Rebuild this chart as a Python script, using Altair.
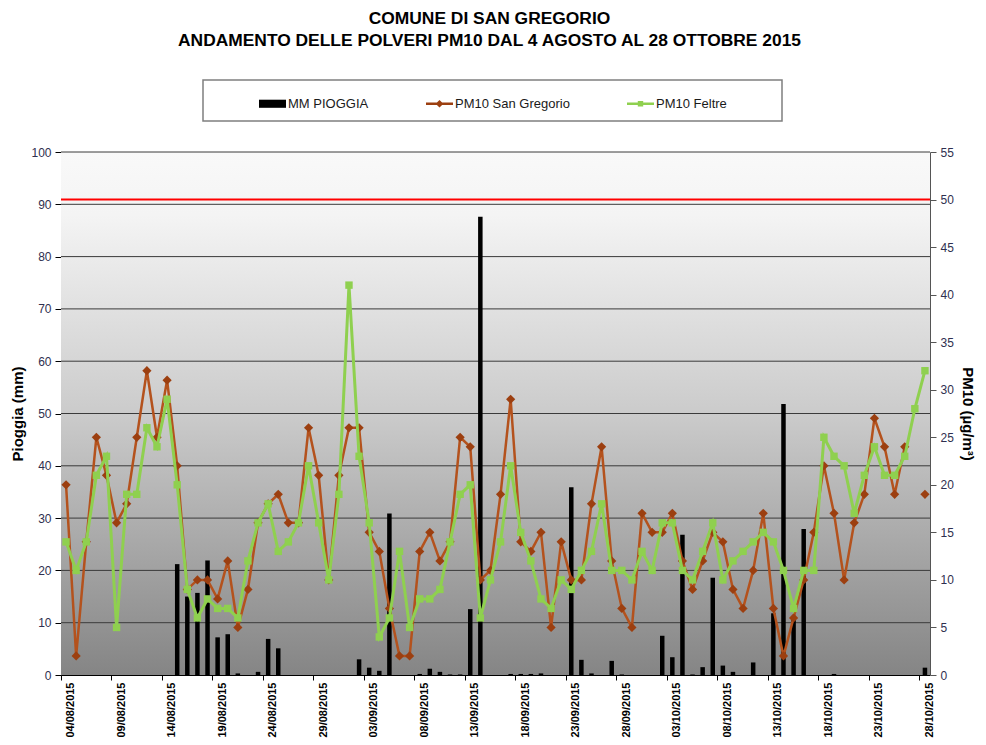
import altair as alt
import pandas as pd

# ---------------- data ----------------
dates = [d.strftime("%d/%m/%Y") for d in pd.date_range("2015-08-04", "2015-10-28", freq="D")]
tick_labels = dates[::5]

rain_mm = [0, 0, 0, 0, 0, 0, 0, 0, 0, 0,
           0, 21.2, 15.0, 15.7, 21.9, 7.2, 7.8, 0.3, 0, 0.6,
           6.9, 5.1, 0, 0, 0, 0, 0, 0, 0, 3.0,
           1.4, 0.8, 30.9, 0, 0, 0.2, 1.2, 0.6, 0.1, 0.1,
           12.6, 87.6, 0, 0, 0.2, 0.2, 0.2, 0.3, 0, 0,
           35.9, 2.9, 0.3, 0, 2.7, 0.1, 0, 0, 0, 7.5,
           3.4, 26.8, 0.1, 1.5, 18.6, 1.8, 0.6, 0, 2.4, 0,
           11.8, 51.8, 11.0, 27.9, 0, 0, 0.2, 0, 0, 0,
           0, 0, 0, 0, 0, 1.4]

pm10_san_gregorio = [20, 2, 14, 25, 21, 16, 18, 25, 32, 25,
                     31, 22, 9, 10, 10, 8, 12, 5, 9, 16,
                     18, 19, 16, 16, 26, 21, 10, 21, 26, 26,
                     15, 13, 7, 2, 2, 13, 15, 12, 14, 25,
                     24, 10, 11, 19, 29, 14, 13, 15, 5, 14,
                     10, 10, 18, 24, 12, 7, 5, 17, 15, 15,
                     17, 12, 9, 12, 15, 14, 9, 7, 11, 17,
                     7, 2, 6, 10, 15, 22, 17, 10, 16, 19,
                     27, 24, 19, 24, None, 19]

pm10_feltre = [14, 11, 14, 21, 23, 5, 19, 19, 26, 24,
               29, 20, 9, 6, 8, 7, 7, 6, 12, 16,
               18, 13, 14, 16, 22, 16, 10, 19, 41, 23,
               16, 4, 6, 13, 5, 8, 8, 9, 14, 19,
               20, 6, 10, 14, 22, 15, 12, 8, 7, 10,
               9, 11, 13, 18, 11, 11, 10, 13, 11, 16,
               16, 11, 10, 13, 16, 10, 12, 13, 14, 15,
               14, 11, 7, 11, 11, 25, 23, 22, 17, 21,
               24, 21, 21, 23, 28, 32]

rain_ticks = list(range(0, 101, 10))
rain_grid = list(range(10, 101, 10))
pm_ticks = list(range(0, 56, 5))
pm10_limit = [50]

S_RAIN = "MM PIOGGIA"
S_SG = "PM10 San Gregorio"
S_FE = "PM10 Feltre"
series_names = [S_RAIN, S_SG, S_FE]

# ---------------- styles ----------------
W, H = 869, 523
FONT = "Liberation Sans"
BROWN_LINE = "#b4521d"
BROWN_MARK = "#9c3f10"
GREEN = "#8fd04f"
legend_colors = ["#000000", BROWN_MARK, GREEN]
legend_paths = [
    "M-1,-0.3L1,-0.3L1,0.3L-1,0.3Z",
    "M-1,-0.09L-0.19,-0.09L0,-0.28L0.19,-0.09L1,-0.09L1,0.09L0.19,0.09L0,0.28L-0.19,0.09L-1,0.09Z",
    "M-1,-0.09L-0.2,-0.09L-0.2,-0.2L0.2,-0.2L0.2,-0.09L1,-0.09L1,0.09L0.2,0.09L0.2,0.2L-0.2,0.2L-0.2,0.09L-1,0.09Z",
]

rain_df = pd.DataFrame({"date": dates, "rain": rain_mm})
grid_df = pd.DataFrame({"rain": rain_grid})
sg_df = pd.DataFrame({"date": dates, "pm": pm10_san_gregorio, "series": S_SG})
fe_df = pd.DataFrame({"date": dates, "pm": pm10_feltre, "series": S_FE})
pm_df = pd.concat([sg_df, fe_df], ignore_index=True)
limit_df = pd.DataFrame({"pm": pm10_limit})
bg_df = pd.DataFrame({"k": [0]})

x_enc = alt.X(
    "date:O",
    sort=dates,
    scale=alt.Scale(domain=dates, paddingInner=0, paddingOuter=0),
    axis=alt.Axis(
        values=tick_labels, title=None, labelAngle=270, bandPosition=0, labelOffset=5,
        labelFont=FONT, labelFontSize=11, labelFontWeight="bold", labelColor="#000000",
        labelPadding=2, tickSize=5, tickColor="#000000", domainColor="#000000",
        grid=False,
    ),
)

y_rain = alt.Y(
    "rain:Q",
    scale=alt.Scale(domain=[0, 100], nice=False, zero=True),
    axis=alt.Axis(
        orient="left", values=rain_ticks, grid=False, title="Pioggia (mm)",
        titleFont=FONT, titleFontSize=15, titleFontWeight="bold", titleColor="#000000",
        titlePadding=5, labelFont=FONT, labelFontSize=12, labelColor="#2f2f4f",
        labelPadding=4, tickSize=6, tickColor="#000000", domainColor="#000000",
    ),
)

y_pm = alt.Y(
    "pm:Q",
    scale=alt.Scale(domain=[0, 55], nice=False, zero=True),
    axis=alt.Axis(
        orient="right", values=pm_ticks, grid=False, title="PM10 (µg/m³)",
        titleFont=FONT, titleFontSize=15, titleFontWeight="bold", titleColor="#000000",
        titlePadding=6, labelFont=FONT, labelFontSize=12, labelColor="#2f2f4f",
        labelPadding=4, tickSize=6, tickColor="#555555", domainColor="#555555",
    ),
)

gradient = alt.LinearGradient(
    gradient="linear",
    stops=[
        alt.GradientStop(offset=0, color="#f9f9f9"),
        alt.GradientStop(offset=0.12, color="#f4f4f4"),
        alt.GradientStop(offset=0.5, color="#cbcbcb"),
        alt.GradientStop(offset=1, color="#858585"),
    ],
    x1=0, x2=0, y1=0, y2=1,
)

background = alt.Chart(bg_df).mark_rect(color=gradient).encode(
    x=alt.value(0), x2=alt.value(W), y=alt.value(0), y2=alt.value(H)
)

grid = alt.Chart(grid_df).mark_rule(color="#3a3a3a", strokeWidth=1).encode(y=y_rain)

bars = alt.Chart(rain_df).mark_bar(color="#000000", width=4.5).encode(x=x_enc, y=y_rain)

rain_layer = alt.layer(background, grid, bars)

limit_rule = alt.Chart(limit_df).mark_rule(color="#ff0000", strokeWidth=2).encode(y=y_pm)

sg_line = alt.Chart(sg_df).mark_line(
    color=BROWN_LINE, strokeWidth=2.5, invalid="break-paths-show-domains"
).encode(x=x_enc, y=y_pm)
sg_pts = alt.Chart(sg_df).mark_point(
    shape="diamond", filled=True, color=BROWN_MARK, size=85, opacity=1
).encode(x=x_enc, y=y_pm)

fe_line = alt.Chart(fe_df).mark_line(
    color=GREEN, strokeWidth=3, invalid="break-paths-show-domains"
).encode(x=x_enc, y=y_pm)
fe_pts = alt.Chart(fe_df).mark_point(
    shape="square", filled=True, color=GREEN, size=55, opacity=1
).encode(x=x_enc, y=y_pm)

leg = alt.Legend(
    title="\u00a0", titleOrient="right", titlePadding=45, titleFontSize=4,
    orient="none", direction="horizontal", legendX=142, legendY=-72,
    symbolSize=729, symbolOpacity=1, symbolStrokeWidth=0, symbolOffset=46,
    columnPadding=11, labelOffset=2, padding=10,
    labelFont=FONT, labelFontSize=13, labelColor="#1a1a1a",
    strokeColor="#7f7f7f", fillColor="#ffffff",
)

legend_layer = alt.Chart(pm_df).mark_point(filled=True, opacity=0).encode(
    x=x_enc,
    y=y_pm,
    shape=alt.Shape("series:N", scale=alt.Scale(domain=series_names, range=legend_paths), legend=leg),
    fill=alt.Fill("series:N", scale=alt.Scale(domain=series_names, range=legend_colors), legend=leg),
)

pm_layer = alt.layer(limit_rule, sg_line, sg_pts, fe_line, fe_pts, legend_layer)

chart = (
    alt.layer(rain_layer, pm_layer)
    .resolve_scale(y="independent")
    .properties(
        width=W,
        height=H,
        padding={"left": 53, "top": 144, "right": 48, "bottom": 66},
        autosize=alt.AutoSizeParams(type="none"),
        background="#ffffff",
        title=alt.TitleParams(
            text=["COMUNE DI SAN GREGORIO",
                  "ANDAMENTO DELLE POLVERI PM10 DAL 4 AGOSTO AL 28 OTTOBRE 2015"],
            anchor="middle", font=FONT, fontSize=17.4, fontWeight="bold",
            color="#000000", lineHeight=22, offset=30, dx=-6,
        ),
    )
    .configure_view(stroke=None)
    .configure_legend(strokeWidth=1.5)
)

chart.save("out.html", embed_options={"renderer": "svg", "actions": False})
